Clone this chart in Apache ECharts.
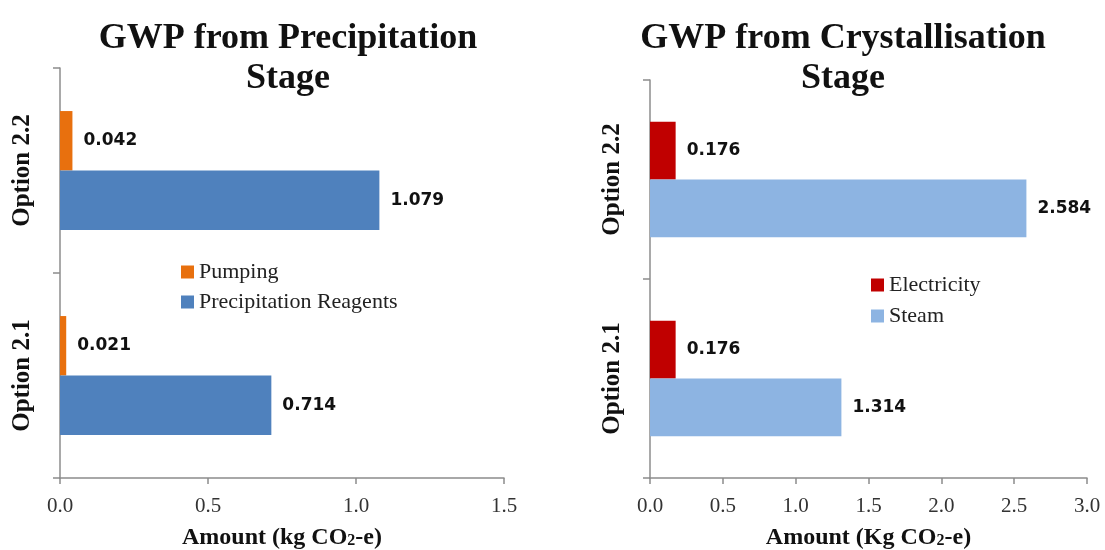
<!DOCTYPE html>
<html><head><meta charset="utf-8">
<script src="https://cdn.jsdelivr.net/npm/echarts@6/dist/echarts.min.js"></script>
<style>html,body{margin:0;padding:0;background:#fff}#c{width:1105px;height:550px}</style>
</head><body><div id="c"></div>
<script>
const categories = ['Option 2.1', 'Option 2.2'];
const pumping = [0.021, 0.042];
const reagents = [0.714, 1.079];
const electricity = [0.176, 0.176];
const steam = [1.314, 2.584];
const leftTicks = [0, 1.5, 0.5];   // min, max, interval
const rightTicks = [0, 3, 0.5];

const serif = '"Liberation Serif", "Times New Roman", serif';
const chart = echarts.init(document.getElementById('c'));
const lbl = {show: true, position: 'right', distance: 11, color: '#111', fontFamily: '"DejaVu Sans", Verdana, sans-serif', fontWeight: 'bold', fontSize: 17, formatter: p => p.value.toFixed(3)};
function xAx(idx, t, nm) {
  return {gridIndex: idx, type: 'value', min: t[0], max: t[1], interval: t[2],
    splitLine: {show: false},
    axisLine: {show: true, lineStyle: {color: '#8c8c8c', width: 1.5}},
    axisTick: {show: true, length: 6, lineStyle: {color: '#8c8c8c', width: 1.5}},
    axisLabel: {color: '#333', fontFamily: serif, fontSize: 21, margin: 18, formatter: v => v.toFixed(1)},
    name: nm, nameLocation: 'middle', nameGap: 48,
    nameTextStyle: {color: '#111', fontFamily: serif, fontWeight: 'bold', fontSize: 24,
      rich: {sub: {fontSize: 16, fontFamily: serif, fontWeight: 'bold', color: '#111', padding: [6, 0, 0, 0]}}}
  };
}
function yAx(idx) {
  return {gridIndex: idx, type: 'category', data: categories,
    axisLine: {show: true, lineStyle: {color: '#8c8c8c', width: 1.5}},
    axisTick: {show: true, length: 7, lineStyle: {color: '#8c8c8c', width: 1.5}},
    axisLabel: {rotate: 90, color: '#111', fontFamily: serif, fontWeight: 'bold', fontSize: 25, margin: 25}
  };
}
chart.setOption({
  animation: false,
  title: [
    {text: 'GWP from Precipitation\nStage', left: 283, top: 14, textAlign: 'center',
     textStyle: {fontFamily: serif, fontWeight: 'bold', fontSize: 36, color: '#111', lineHeight: 40}},
    {text: 'GWP from Crystallisation\nStage', left: 838, top: 14, textAlign: 'center',
     textStyle: {fontFamily: serif, fontWeight: 'bold', fontSize: 36, color: '#111', lineHeight: 40}}
  ],
  legend: [
    {data: ['Pumping', 'Precipitation Reagents'], orient: 'vertical', left: 176, top: 256, itemWidth: 13, itemHeight: 13, itemGap: 8, icon: 'rect',
     textStyle: {fontFamily: serif, fontSize: 22, color: '#222'}},
    {data: ['Electricity', 'Steam'], orient: 'vertical', left: 866, top: 269, itemWidth: 13, itemHeight: 13, itemGap: 9, icon: 'rect',
     textStyle: {fontFamily: serif, fontSize: 22, color: '#222'}}
  ],
  grid: [
    {left: 60, right: 601, top: 68, bottom: 72, containLabel: false, outerBoundsMode: 'none'},
    {left: 650, right: 18, top: 80, bottom: 72, containLabel: false, outerBoundsMode: 'none'}
  ],
  xAxis: [xAx(0, leftTicks, 'Amount (kg CO{sub|2}-e)'), xAx(1, rightTicks, 'Amount (Kg CO{sub|2}-e)')],
  yAxis: [yAx(0), yAx(1)],
  series: [
    {name: 'Pumping', type: 'bar', xAxisIndex: 0, yAxisIndex: 0, data: pumping, itemStyle: {color: '#E8700E'}, label: lbl, barGap: '0%', barCategoryGap: '42%'},
    {name: 'Precipitation Reagents', type: 'bar', xAxisIndex: 0, yAxisIndex: 0, data: reagents, itemStyle: {color: '#4F81BD'}, label: lbl},
    {name: 'Electricity', type: 'bar', xAxisIndex: 1, yAxisIndex: 1, data: electricity, itemStyle: {color: '#C00000'}, label: lbl, barGap: '0%', barCategoryGap: '42%'},
    {name: 'Steam', type: 'bar', xAxisIndex: 1, yAxisIndex: 1, data: steam, itemStyle: {color: '#8DB4E2'}, label: lbl}
  ]
});
</script></body></html>
